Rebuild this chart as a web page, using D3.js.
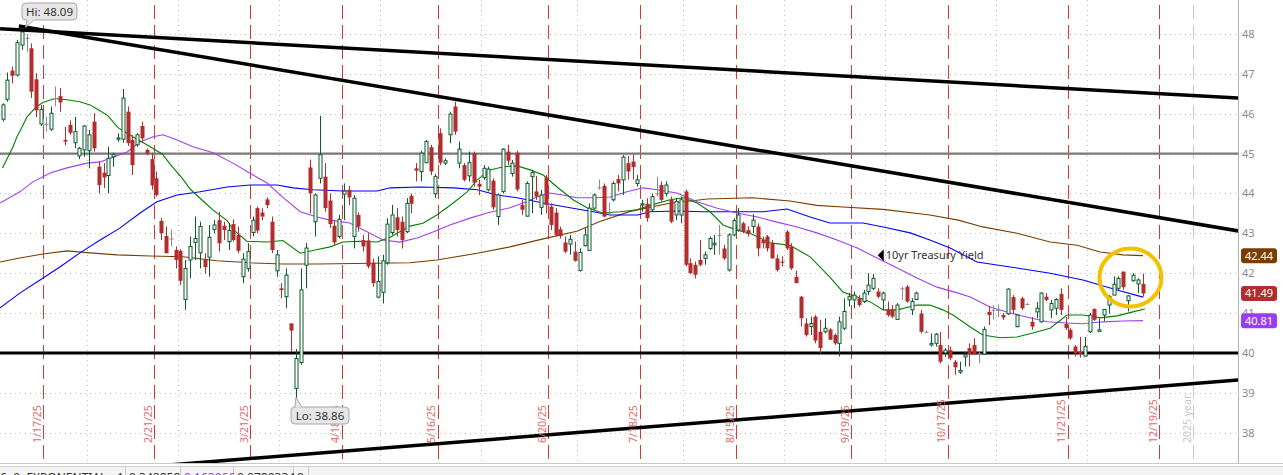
<!DOCTYPE html>
<html><head><meta charset="utf-8">
<script src="https://cdn.jsdelivr.net/npm/d3@7"></script>
<style>html,body{margin:0;padding:0;background:#fff;overflow:hidden}svg{display:block;font-family:"Noto Sans",sans-serif}</style>
</head><body><svg id="c" width="1283" height="475"></svg>
<script>
// ---- candle data (trading-day index 0 = 2025-01-06) ----
const openV = [45.86,46.36,47.08,46.97,47.72,47.9,47.64,46.86,45.74,45.74,45.61,46.39,46.44,45.34,45.72,45.27,44.94,45.09,45.07,45.8,
44.67,44.52,44.45,44.92,45.36,45.36,46.05,45.34,45.22,45.69,45.09,44.86,44.38,43.31,42.93,42.87,42.58,42.56,41.34,42.33,
42.77,42.51,42.35,42.4,43.1,43.33,43.19,42.79,43.23,42.96,41.91,42.12,43.02,43.63,43.52,43.85,43.29,42.06,41.62,41.41,
40.74,39.11,39.76,42.2,44.65,43.29,44.38,44.42,43.82,43.19,42.92,43.98,44.09,42.92,43.46,42.83,42.82,42.26,41.4,41.52,
42.26,43.02,43.4,43.29,43.04,43.94,44.63,44.55,44.77,45.16,43.99,45.51,44.76,45.47,46.18,44.76,44.71,44.44,45.01,44.24,
44.4,44.09,44.32,43.42,44.05,45.05,44.5,45.02,43.71,43.43,44.42,44.05,43.65,44.4,43.67,43.52,43.1,42.77,42.73,42.54,
42.07,42.69,42.57,43.63,44.15,44.19,43.5,43.84,44.36,44.34,44.76,44.8,44.25,43.71,43.74,43.59,44.0,44.21,44.0,43.84,
43.46,43.46,44.05,42.25,42.21,42.33,42.37,42.62,42.71,42.96,42.62,42.08,42.96,43.08,43.25,43.08,43.17,43.17,42.83,42.92,
42.75,42.37,42.29,43.04,42.67,41.91,41.41,40.74,40.66,40.91,40.53,40.53,40.59,40.45,40.24,40.62,41.33,41.33,41.37,41.29,
41.54,41.62,41.54,41.33,41.08,41.08,40.84,41.62,41.66,41.08,41.34,40.99,40.53,40.2,40.24,40.2,40.0,40.07,39.78,39.52,
39.9,40.12,40.2,39.99,39.97,41.03,41.08,41.08,40.95,40.98,41.4,40.66,41.37,41.23,40.78,41.03,40.78,41.41,41.08,41.12,
41.48,40.73,40.58,40.16,40.03,39.92,40.53,41.1,40.54,40.95,41.2,41.45,41.62,42.04,41.31,41.81,41.73,41.73];
const highV = [46.26,47.03,47.18,47.85,48.09,48.0,47.76,47.01,46.22,45.93,46.18,46.68,46.64,45.67,45.83,45.92,45.17,45.71,45.59,46.01,
44.8,44.76,45.17,45.02,45.51,46.62,46.18,45.47,45.51,45.8,45.13,45.02,44.55,43.38,43.17,43.1,42.67,42.6,42.33,42.92,
43.42,43.29,42.5,43.21,43.33,43.54,43.29,43.25,43.35,43.17,42.5,42.75,43.42,43.67,43.63,43.9,43.42,42.58,41.75,42.12,
40.74,40.1,42.12,42.76,44.85,44.0,45.94,44.76,44.0,43.33,43.46,44.25,44.19,43.96,43.52,42.96,43.0,42.37,42.42,42.46,
43.38,43.71,43.63,43.42,43.88,44.0,44.76,45.07,45.34,45.22,44.49,45.63,44.88,46.05,46.3,45.3,44.76,45.05,45.05,44.34,
44.71,44.67,44.38,44.0,45.13,45.22,44.84,45.07,43.84,44.3,44.59,44.44,44.09,44.46,43.75,43.63,43.17,42.92,42.96,42.79,
42.62,43.13,43.75,44.0,44.35,44.25,43.77,44.3,44.46,44.96,44.94,44.97,44.46,43.84,43.88,44.0,44.42,44.3,44.3,43.92,
43.88,43.92,44.1,42.37,42.29,42.83,42.54,42.92,42.96,43.21,42.71,43.0,43.38,43.63,43.29,43.17,43.48,43.25,42.92,42.96,
42.83,42.46,42.42,43.08,42.75,42.06,41.43,40.87,40.91,40.95,40.83,40.87,40.62,40.49,40.91,41.37,41.5,41.54,41.45,41.58,
42.0,41.98,41.62,41.54,41.29,41.2,41.25,41.66,41.7,41.37,41.54,41.08,40.56,40.49,40.5,40.53,40.12,40.16,39.82,39.78,
40.03,40.24,40.37,40.03,40.66,41.18,41.2,41.22,41.0,41.62,41.45,40.98,41.41,41.25,40.9,41.28,41.52,41.5,41.33,41.37,
41.62,40.9,40.62,40.2,40.4,40.4,41.0,41.12,40.86,41.1,41.45,41.92,41.92,42.04,41.45,42.0,41.87,41.99];
const lowV = [45.8,46.3,46.76,46.93,47.6,47.55,46.39,45.91,45.69,45.55,45.57,46.18,46.05,45.21,45.47,45.13,44.86,44.92,44.63,45.05,
44.0,44.13,44.0,44.67,45.3,45.27,45.19,44.46,45.17,45.3,44.95,44.09,43.92,42.83,42.5,42.67,42.12,41.7,41.08,41.87,
42.33,42.12,41.99,41.91,43.0,42.54,42.83,42.58,42.79,42.5,41.75,42.04,42.92,43.0,43.33,43.63,42.5,41.91,41.37,41.12,
40.03,38.86,39.7,41.62,43.5,42.92,44.25,43.54,43.13,42.71,42.87,43.33,43.71,42.62,43.04,42.54,42.12,41.66,41.37,41.24,
42.21,42.96,42.92,42.62,43.0,43.5,44.3,44.3,44.76,44.46,43.88,44.71,44.71,45.26,45.47,44.63,44.3,44.3,44.17,43.96,
44.34,44.05,43.59,43.21,44.0,44.71,44.42,44.05,43.46,43.42,43.5,43.84,43.46,43.5,43.08,42.92,42.87,42.5,42.46,42.29,
42.04,42.67,42.56,43.59,44.09,43.4,43.42,43.8,44.05,43.96,44.34,44.35,44.17,43.54,43.29,43.54,43.92,43.8,43.92,43.25,
43.33,43.25,42.17,41.98,41.87,42.17,42.21,42.58,42.46,42.46,42.33,42.04,42.92,43.04,43.0,42.92,43.0,42.42,42.62,42.54,
42.37,42.04,42.17,42.58,42.08,41.75,40.66,40.41,40.45,40.24,39.99,40.49,40.33,40.2,39.91,40.57,41.16,41.12,41.16,41.25,
41.45,41.58,41.37,41.08,40.91,40.87,40.83,41.33,41.26,40.95,41.33,40.49,40.5,40.16,40.16,39.74,39.9,39.82,39.45,39.47,
39.66,39.66,39.95,39.74,39.95,40.7,40.83,40.9,40.83,40.95,40.98,40.64,41.08,41.2,40.58,40.87,40.76,41.29,40.87,40.95,
40.95,40.58,40.33,39.91,39.88,39.9,40.5,40.8,40.53,40.8,40.99,41.45,41.58,41.58,41.04,41.79,41.5,41.41];
const closeV = [46.22,46.84,46.95,47.78,48.05,47.9,46.55,46.08,46.11,45.74,46.01,46.39,46.28,45.3,45.52,45.55,45.13,45.69,45.47,45.13,
44.21,44.4,44.88,44.98,45.39,46.39,45.26,44.71,45.47,45.38,45.0,44.2,43.96,43.0,42.5,42.87,42.33,41.81,42.12,42.67,
42.87,43.17,42.15,42.9,43.21,42.75,43.08,43.07,42.83,42.56,42.35,42.54,43.33,43.07,43.42,43.71,42.58,42.46,41.58,41.95,
40.56,39.86,41.58,42.63,44.0,43.96,44.97,43.63,43.23,42.77,43.35,44.06,43.9,43.88,43.17,42.67,42.17,41.75,41.79,42.31,
43.23,43.46,43.08,42.83,43.75,43.74,44.57,45.01,45.3,44.55,44.42,44.77,44.82,45.99,45.55,45.11,44.34,44.77,44.27,44.17,
44.63,44.61,43.65,43.96,45.11,44.82,44.76,44.1,43.59,44.25,44.52,43.92,43.96,43.71,43.21,42.96,42.93,42.54,42.85,42.31,
42.52,42.96,43.63,43.96,44.15,43.42,43.5,44.25,44.25,44.91,44.55,44.66,44.34,43.74,43.38,43.92,44.0,43.84,44.21,43.29,
43.8,43.84,42.21,42.0,41.96,42.21,42.46,42.87,42.75,42.96,42.37,42.96,43.32,43.46,43.04,42.98,43.33,42.62,42.75,42.62,
42.37,42.08,42.26,42.62,42.12,41.75,40.87,40.45,40.74,40.31,40.12,40.62,40.33,40.24,40.78,41.04,41.41,41.45,41.2,41.5,
41.7,41.87,41.41,41.5,40.95,40.91,41.2,41.62,41.29,41.29,41.5,40.53,40.53,40.24,40.47,39.78,40.07,39.87,39.64,39.56,
39.95,39.97,39.97,39.99,40.59,40.95,41.08,41.08,40.89,41.6,41.08,40.95,41.12,41.23,40.66,41.12,41.5,41.33,41.24,41.34,
41.08,40.62,40.37,39.99,39.97,40.16,40.95,40.83,40.58,41.09,41.41,41.72,41.87,41.65,41.43,41.95,41.83,41.49];

// ---- moving averages, [day index, value] ----
const maGreen = [[0,44.64],[2.2,45.17],[3,45.42],[4.1,45.67],[5.1,45.92],[7,46.17],[8.4,46.28],[10.9,46.38],[13.4,46.35],[16.1,46.3],[18.2,46.22],[19.9,46.1],[21.9,45.95],[24,45.65],[27.1,45.42],[30,45.22],[33.2,44.99],[34.8,44.74],[37.3,44.39],[39,44.11],[41.7,43.81],[43.8,43.58],[46.7,43.32],[47.9,43.1],[50.8,42.8],[55,42.78],[58.3,42.82],[61.9,42.5],[65,42.58],[68.1,42.66],[70.8,42.78],[74.3,42.8],[77.9,42.78],[80.6,42.9],[84.7,43.18],[87.4,43.25],[90.3,43.46],[93.7,43.76],[96.6,44.04],[98.7,44.34],[101.4,44.59],[104.1,44.67],[107,44.69],[109.7,44.59],[112.4,44.46],[115.3,44.16],[118.6,43.84],[121.5,43.64],[124.8,43.51],[128.4,43.54],[131.9,43.59],[134.6,43.7],[138.8,43.84],[141.5,43.89],[144.4,43.76],[147.1,43.54],[149.8,43.21],[152.7,43.08],[155.4,43.0],[159.6,42.76],[163.7,42.7],[167.9,42.41],[172,41.9],[174.7,41.53],[177.7,41.4],[180.4,41.28],[183.1,41.08],[186,41.08],[190.1,41.2],[192.8,41.2],[195.5,41.08],[197.6,40.95],[201.2,40.65],[203.8,40.45],[207.4,40.38],[210.9,40.4],[214.2,40.5],[217.8,40.62],[221.3,40.95],[224.6,40.95],[228.2,40.88],[231.7,40.93],[235,41.03],[237.5,41.1]];
const maPurple = [[-0.5,43.76],[3.6,44.04],[6.3,44.29],[9.9,44.51],[13.4,44.64],[17.6,44.76],[20.3,44.79],[23,44.91],[25.9,45.04],[28.6,45.29],[31.3,45.42],[33.4,45.47],[36.3,45.34],[39.6,45.17],[43.8,45.02],[47.9,44.76],[52.1,44.46],[55,44.26],[58.3,43.9],[61.9,43.54],[65.4,43.41],[68.1,43.33],[72.2,43.26],[76.4,43.0],[79.1,42.83],[82.6,42.78],[86.2,42.88],[89.5,43.03],[93,43.21],[97.2,43.38],[100.7,43.51],[105.5,43.64],[108.2,43.76],[111.1,43.91],[113.8,44.01],[116.5,43.96],[119.4,43.89],[123.6,43.89],[126.3,43.91],[129.8,44.04],[133.2,44.14],[136.1,44.09],[140.2,44.01],[144.4,43.79],[148.6,43.63],[152.7,43.51],[156.9,43.41],[161,43.28],[165.2,43.16],[169.3,43.01],[173.5,42.83],[177.7,42.63],[181.8,42.38],[186,42.13],[190.1,41.88],[194.3,41.65],[198.7,41.5],[201.2,41.4],[205.3,41.15],[209.5,41.0],[213.6,40.88],[217.2,40.78],[221.3,40.75],[224.6,40.73],[228.8,40.78],[232.9,40.8],[237.1,40.81]];
const maBlue = [[-0.5,41.13],[3.6,41.5],[7.8,41.83],[12,42.16],[16.1,42.51],[20.3,42.83],[24.4,43.13],[28.6,43.51],[32.1,43.79],[36.3,43.96],[41.1,44.04],[46.7,44.16],[51.5,44.21],[57.1,44.21],[60.4,44.14],[64.6,44.09],[70.8,44.06],[77.9,44.06],[80.6,44.14],[86.8,44.16],[93.7,44.14],[98.7,44.09],[102.8,43.96],[107,43.89],[112.4,43.76],[118,43.64],[122.8,43.54],[126.3,43.46],[132.1,43.46],[134.6,43.54],[140.2,43.56],[145.6,43.54],[151.2,43.54],[158.1,43.54],[163.1,43.61],[167.9,43.41],[172,43.26],[178.9,43.26],[183.1,43.16],[188.7,43.01],[192.8,42.83],[197,42.63],[202.6,42.28],[210.9,42.13],[217.8,42.0],[224.6,41.83],[231.7,41.58],[237.1,41.4]];
const maBrown = [[-0.5,42.28],[3.6,42.38],[8.4,42.48],[13.4,42.56],[18.2,42.51],[23.8,42.46],[30.7,42.43],[37.5,42.41],[44.6,42.31],[51.5,42.26],[58.3,42.23],[65.4,42.23],[84.7,42.26],[90.3,42.33],[98.7,42.5],[105.5,42.66],[112.4,42.86],[119.4,43.05],[124.3,43.3],[130.5,43.55],[138.2,43.74],[146.5,43.86],[156,43.89],[163.7,43.81],[169.3,43.7],[174.7,43.66],[183.1,43.6],[192.8,43.46],[198.7,43.33],[203.8,43.16],[210.9,43.0],[217.8,42.78],[223.4,42.7],[228.2,42.53],[232.9,42.46],[237.1,42.44]];

// ---- annotations ----
const expiryIdx = [8,31,51,70,90,113,132,152,176,196,221,240];
const expiryLabels = ["1/17/25","2/21/25","3/21/25","4/18/25","5/16/25","6/20/25","7/18/25","8/15/25","9/19/25","10/17/25","11/21/25","12/19/25"];
const monthEndIdx = [17,36,57,78,99,119,141,162,183,206,225];
const yearEndIdx = [247];
const yearLabels = ["2025 year"];
const yTicks = [38,39,40,41,42,43,44,45,46,47,48];
const trendLines = [[[-0.5,48.13],[256.9,46.39]],[[3.4,48.2],[256.9,43.06]],[[20,37.05],[256.9,39.32]]];
const levelLines = [45,40];
const tagValues = [42.44,41.49,40.81];
const hiIdx = 4, hiVal = 48.09, loIdx = 61, loVal = 38.86;
const seriesLabel = "10yr Treasury Yield";
const labelAt = [183, 42.45];
const circleAt = [234.5, 41.89];
const statusTexts = ["6, 0, EXPONENTIAL","1","0.342858","0.163966","0.0789334","0"];

// ---- drawing ----
const svg = d3.select("#c");
const R = 1238, B = 463;
const x = d3.scaleLinear().domain([0,237]).range([2.5,1142.5]);
const y = d3.scaleLinear().domain([37.24,48.85]).range([B,0]);
const n = closeV.length;

svg.append("rect").attr("width",1283).attr("height",475).attr("fill","#fff");
svg.append("defs").append("clipPath").attr("id","pc").append("rect").attr("x",0).attr("y",0).attr("width",R).attr("height",B);
const g = svg.append("g").attr("clip-path","url(#pc)");

// horizontal dotted grid
g.selectAll(".hg").data(yTicks).join("line")
  .attr("x1",0).attr("x2",R).attr("y1",d=>Math.round(y(d))+0.5).attr("y2",d=>Math.round(y(d))+0.5)
  .attr("stroke","#bdbdbd").attr("stroke-dasharray","1,4");
// month dotted lines
g.selectAll(".mg").data(monthEndIdx).join("line")
  .attr("x1",d=>Math.round(x(d+0.5))+0.5).attr("x2",d=>Math.round(x(d+0.5))+0.5).attr("y1",0).attr("y2",B)
  .attr("stroke","#bdbdbd").attr("stroke-dasharray","1,4");
// expiry dashed lines
g.selectAll(".ex").data(expiryIdx).join("line")
  .attr("x1",d=>Math.round(x(d+0.5))+0.5).attr("x2",d=>Math.round(x(d+0.5))+0.5).attr("y1",5).attr("y2",B)
  .attr("stroke","#cc3b3b").attr("stroke-dasharray","14,6");
g.selectAll(".yr").data(yearEndIdx).join("line")
  .attr("x1",d=>Math.round(x(d+0.5))+0.5).attr("x2",d=>Math.round(x(d+0.5))+0.5).attr("y1",5).attr("y2",B)
  .attr("stroke","#c8c8c8").attr("stroke-dasharray","14,6");

// level lines
g.append("line").attr("x1",0).attr("x2",R).attr("y1",y(levelLines[0])).attr("y2",y(levelLines[0])).attr("stroke","#7a7a7a").attr("stroke-width",2.2);
g.append("line").attr("x1",0).attr("x2",R).attr("y1",y(levelLines[1])).attr("y2",y(levelLines[1])).attr("stroke","#000").attr("stroke-width",3);

// moving averages
const line = d3.line().x(d=>x(d[0])).y(d=>y(d[1]));
[[maBrown,"#7a3d00"],[maBlue,"#0000ff"],[maPurple,"#a040f0"],[maGreen,"#008000"]].forEach(([data,col])=>{
  g.append("path").attr("d",line(data)).attr("fill","none").attr("stroke",col).attr("stroke-width",1.1);
});

// candles
const GREEN="#0b5a2b", RED="#b22d2d", GRAY="#8a8a8a";
const idx = d3.range(n);
const col = i => closeV[i]>openV[i] ? GREEN : (closeV[i]<openV[i] ? RED : GRAY);
const cg = g.append("g");
cg.selectAll(".w").data(idx).join("line")
  .attr("x1",i=>Math.round(x(i))+0.5).attr("x2",i=>Math.round(x(i))+0.5)
  .attr("y1",i=>y(highV[i])).attr("y2",i=>y(lowV[i])).attr("stroke",col).attr("stroke-width",1);
cg.selectAll(".b").data(idx).join("rect")
  .attr("x",i=>closeV[i]>openV[i]? Math.round(x(i))-1 : Math.round(x(i))-1.5)
  .attr("width",i=>closeV[i]>openV[i]?3:4)
  .attr("y",i=>y(Math.max(openV[i],closeV[i])))
  .attr("height",i=>Math.max(1,Math.abs(y(openV[i])-y(closeV[i]))))
  .attr("fill",i=>closeV[i]>openV[i]?"#fff":col(i))
  .attr("stroke",i=>closeV[i]>openV[i]?GREEN:"none").attr("stroke-width",1);

// trend lines
g.selectAll(".tl").data(trendLines).join("line")
  .attr("x1",d=>x(d[0][0])).attr("y1",d=>y(d[0][1])).attr("x2",d=>x(d[1][0])).attr("y2",d=>y(d[1][1]))
  .attr("stroke","#000").attr("stroke-width",3.5);

// yellow circle
g.append("ellipse").attr("cx",x(circleAt[0])).attr("cy",y(circleAt[1])).attr("rx",31).attr("ry",29)
  .attr("fill","none").attr("stroke","#f2c200").attr("stroke-width",4);

// series label
const lx = x(labelAt[0]), ly = y(labelAt[1]);
g.append("path").attr("d",`M${lx-5},${ly} L${lx+1},${ly-6} L${lx+1},${ly+6} Z`).attr("fill","#000");
g.append("text").attr("x",lx+3).attr("y",ly).attr("dy","0.35em").attr("font-size",11).attr("fill","#333").text(seriesLabel);

// date labels
svg.selectAll(".dl").data(expiryIdx).join("text")
  .attr("transform",d=>`translate(${x(d+0.5)-2.5},443) rotate(-90)`)
  .attr("font-size",10.5).attr("fill","#e06a6a").text((d,i)=>expiryLabels[i]);
svg.selectAll(".yl").data(yearEndIdx).join("text")
  .attr("transform",d=>`translate(${x(d+0.5)-2.5},443) rotate(-90)`)
  .attr("font-size",10.5).attr("fill","#c8c8c8").text((d,i)=>yearLabels[i]);

// Hi / Lo bubbles
function bubble(px,py,bx,by,w,h,txt,tipUp){
  const gb = svg.append("g");
  const tip = tipUp
    ? `M${bx+4},${by} L${px},${py} L${bx+11},${by}`
    : `M${bx+5},${by+h} L${px},${py} L${bx+12},${by+h}`;
  gb.append("rect").attr("x",bx).attr("y",by).attr("width",w).attr("height",h).attr("rx",4)
    .attr("fill","#e6e6e6").attr("stroke","#a8a8a8");
  gb.append("path").attr("d",tip).attr("fill","#e6e6e6").attr("stroke","#a8a8a8");
  gb.append("rect").attr("x",bx+4.5).attr("y",tipUp?by+0.5:by+h-2).attr("width",8).attr("height",2).attr("fill","#e6e6e6");
  gb.append("text").attr("x",bx+w/2).attr("y",by+h/2).attr("dy","0.36em").attr("text-anchor","middle")
    .attr("font-size",11.5).attr("fill","#333").text(txt);
}
bubble(x(hiIdx)+4,y(hiVal)-3,22,3,55,17,"Hi: "+hiVal.toFixed(2),false);
bubble(x(loIdx),y(loVal)-1,291,407,58,17,"Lo: "+loVal.toFixed(2),true);

// right axis
svg.append("line").attr("x1",R+0.5).attr("x2",R+0.5).attr("y1",0).attr("y2",B).attr("stroke","#b0b0b0");
const ax = svg.append("g").attr("transform",`translate(${R},0)`).call(d3.axisRight(y).tickValues(yTicks).tickSize(0).tickPadding(4).tickFormat(d3.format("d")));
ax.select(".domain").remove();
ax.selectAll("text").attr("font-size",11).attr("fill","#8a8a8a").attr("font-family","Noto Sans");
const tagCols = ["#7a3d00","#b22d2d","#9b3cf5"];
tagValues.forEach((v,i)=>{
  const ty = y(v);
  svg.append("rect").attr("x",R+3).attr("y",ty-7.5).attr("width",36).attr("height",15).attr("rx",3).attr("fill",tagCols[i]);
  svg.append("text").attr("x",R+21).attr("y",ty).attr("dy","0.36em").attr("text-anchor","middle")
    .attr("font-size",11).attr("fill","#fff").text(v.toFixed(2));
});

// bottom status bar
svg.append("line").attr("x1",0).attr("x2",1283).attr("y1",B+0.5).attr("y2",B+0.5).attr("stroke","#c8c8c8");
svg.append("rect").attr("x",0).attr("y",466).attr("width",1283).attr("height",9).attr("fill","#f4f4f4");
svg.append("line").attr("x1",0).attr("x2",1283).attr("y1",466.5).attr("y2",466.5).attr("stroke","#d0d0d0");
const sx = [0,117,129,184,237,297];
const sepX = [125,180,233,293,308];
sepX.forEach(s=>svg.append("line").attr("x1",s+0.5).attr("x2",s+0.5).attr("y1",467).attr("y2",475).attr("stroke","#c8c8c8"));
statusTexts.forEach((t,i)=>svg.append("text").attr("x",sx[i]).attr("y",482).attr("font-size",12)
  .attr("fill",i===3?"#a040f0":"#333").text(t));
</script></body></html>
